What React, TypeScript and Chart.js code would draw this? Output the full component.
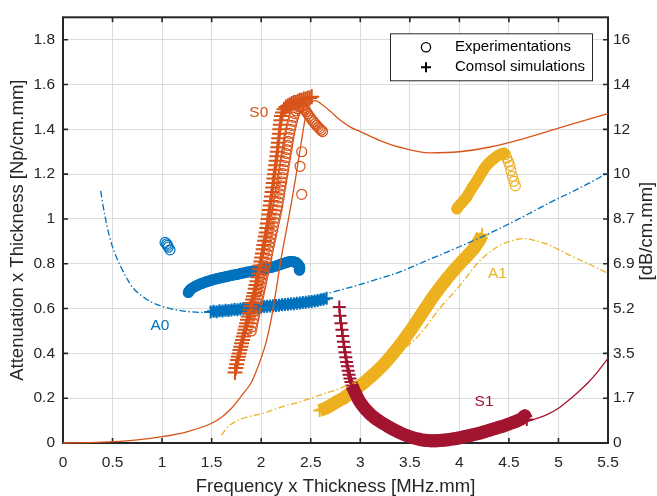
import React, { useEffect, useRef } from "react";
import { Chart, registerables } from "chart.js";

Chart.register(...registerables);

// ---------- axes ----------
const xTicks = [0, 0.5, 1, 1.5, 2, 2.5, 3, 3.5, 4, 4.5, 5, 5.5];
const xTickLabels = ["0", "0.5", "1", "1.5", "2", "2.5", "3", "3.5", "4", "4.5", "5", "5.5"];
const yTicks = [0, 0.2, 0.4, 0.6, 0.8, 1, 1.2, 1.4, 1.6, 1.8];
const yTickLabels = ["0", "0.2", "0.4", "0.6", "0.8", "1", "1.2", "1.4", "1.6", "1.8"];
const yRightTickLabels = ["0", "1.7", "3.5", "5.2", "6.9", "8.7", "10", "12", "14", "16"];
const xRange = [0, 5.5];
const yRange = [0, 1.9];
const xTitle = "Frequency x Thickness [MHz.mm]";
const yTitle = "Attenuation x Thickness [Np/cm.mm]";
const y2Title = "[dB/cm.mm]";
const legendLabels = ["Experimentations", "Comsol simulations"];

type P = [number, number];

// ---------- theory curves ----------
const a0Theory: P[] = [
  [0.38, 1.125], [0.42, 1.02], [0.47, 0.92], [0.52, 0.85], [0.58, 0.79], [0.65, 0.73], [0.71, 0.69],
  [0.8, 0.655], [0.9, 0.627], [1.0, 0.61], [1.1, 0.598], [1.2, 0.59], [1.3, 0.585], [1.4, 0.583],
  [1.5, 0.584], [1.7, 0.592], [2.0, 0.61], [2.3, 0.633], [2.6, 0.66], [2.9, 0.695], [3.2, 0.735],
  [3.4, 0.764], [3.7, 0.82], [4.0, 0.876], [4.3, 0.935], [4.6, 1.0], [4.9, 1.07], [5.2, 1.135], [5.5, 1.205],
];
const s0Theory: P[] = [
  [0, 0], [0.25, 0.002], [0.5, 0.006], [0.75, 0.014], [1.0, 0.028], [1.25, 0.05], [1.5, 0.088],
  [1.6, 0.115], [1.7, 0.155], [1.8, 0.21], [1.9, 0.27], [1.95, 0.32], [2.0, 0.38], [2.05, 0.45],
  [2.1, 0.55], [2.15, 0.68], [2.2, 0.82], [2.25, 0.94], [2.3, 1.06], [2.35, 1.19], [2.4, 1.33],
  [2.45, 1.46], [2.5, 1.52], [2.55, 1.528], [2.6, 1.515], [2.7, 1.48], [2.8, 1.44], [2.9, 1.41],
  [3.0, 1.39], [3.2, 1.35], [3.4, 1.32], [3.7, 1.295], [4.0, 1.3], [4.3, 1.32], [4.7, 1.365],
  [5.0, 1.405], [5.5, 1.47],
];
const a1Theory: P[] = [
  [1.6, 0.035], [1.65, 0.065], [1.7, 0.085], [1.8, 0.108], [1.9, 0.12], [2.0, 0.13], [2.2, 0.16],
  [2.4, 0.185], [2.6, 0.215], [2.8, 0.245], [3.0, 0.285], [3.2, 0.34], [3.4, 0.405], [3.6, 0.485],
  [3.8, 0.6], [4.0, 0.7], [4.2, 0.81], [4.4, 0.88], [4.55, 0.905], [4.65, 0.912], [4.75, 0.905],
  [4.9, 0.885], [5.05, 0.852], [5.2, 0.82], [5.35, 0.79], [5.5, 0.757],
];
const s1Theory: P[] = [
  [2.92, 0.26], [2.97, 0.215], [3.0, 0.185], [3.05, 0.145], [3.1, 0.115], [3.2, 0.075], [3.3, 0.05],
  [3.4, 0.033], [3.5, 0.019], [3.6, 0.009], [3.7, 0.004], [3.8, 0.003], [3.9, 0.006], [4.0, 0.012],
  [4.2, 0.032], [4.4, 0.058], [4.6, 0.085], [4.8, 0.112], [4.9, 0.13], [5.0, 0.155], [5.1, 0.19],
  [5.2, 0.228], [5.3, 0.27], [5.4, 0.32], [5.5, 0.378],
];

// ---------- experiments (circles) ----------
const a0Exp: P[] = [
  [1.265, 0.672], [1.28, 0.682], [1.3, 0.69], [1.33, 0.698], [1.36, 0.705], [1.4, 0.712], [1.45, 0.72],
  [1.5, 0.727], [1.55, 0.733], [1.6, 0.738], [1.65, 0.743], [1.7, 0.748], [1.75, 0.752], [1.8, 0.757],
  [1.85, 0.762], [1.9, 0.766], [1.95, 0.77], [2.0, 0.775], [2.05, 0.779], [2.1, 0.784], [2.15, 0.79],
  [2.2, 0.798], [2.25, 0.805], [2.29, 0.81], [2.32, 0.81], [2.35, 0.806], [2.37, 0.798], [2.385, 0.788],
  [2.39, 0.78], [2.385, 0.772],
];
const a0ExpIsolated: P[] = [[1.03, 0.895], [1.046, 0.889], [1.055, 0.882], [1.063, 0.874], [1.08, 0.862]];
const s0Exp: P[] = [
  [1.9, 0.5], [1.909, 0.518], [1.917, 0.536], [1.926, 0.554], [1.935, 0.572], [1.943, 0.59], [1.952, 0.608],
  [1.96, 0.626], [1.969, 0.644], [1.978, 0.662], [1.986, 0.68], [1.995, 0.698], [2.004, 0.716], [2.012, 0.734],
  [2.021, 0.752], [2.03, 0.77], [2.038, 0.788], [2.047, 0.806], [2.056, 0.824], [2.064, 0.842], [2.073, 0.86],
  [2.081, 0.878], [2.09, 0.896], [2.099, 0.914], [2.107, 0.932], [2.116, 0.95], [2.125, 0.968], [2.133, 0.986],
  [2.142, 1.004], [2.151, 1.022], [2.16, 1.04], [2.167, 1.058], [2.173, 1.076], [2.18, 1.094], [2.187, 1.112],
  [2.193, 1.13], [2.2, 1.148], [2.207, 1.166], [2.213, 1.184], [2.22, 1.202], [2.227, 1.22], [2.233, 1.238],
  [2.24, 1.256], [2.247, 1.274], [2.253, 1.292], [2.26, 1.31], [2.267, 1.328], [2.273, 1.346], [2.28, 1.364],
  [2.288, 1.382], [2.297, 1.4], [2.306, 1.418], [2.316, 1.436], [2.327, 1.454], [2.338, 1.47],
  [2.35, 1.483], [2.365, 1.493], [2.38, 1.5], [2.395, 1.503], [2.41, 1.501], [2.425, 1.496], [2.44, 1.488],
  [2.455, 1.479], [2.47, 1.469], [2.485, 1.459], [2.5, 1.45], [2.515, 1.441], [2.53, 1.433], [2.545, 1.425],
  [2.56, 1.417], [2.575, 1.41], [2.59, 1.403], [2.605, 1.396], [2.62, 1.39],
  [2.409, 1.3], [2.392, 1.235], [2.409, 1.11],
];
const a1ExpBand: P[] = [
  [3.975, 1.045], [3.99, 1.055], [4.01, 1.065], [4.03, 1.075], [4.05, 1.085], [4.07, 1.096], [4.09, 1.11],
  [4.11, 1.125], [4.13, 1.14], [4.15, 1.153], [4.17, 1.166], [4.19, 1.18], [4.21, 1.195], [4.23, 1.21],
  [4.25, 1.224], [4.27, 1.236], [4.29, 1.246], [4.31, 1.255], [4.33, 1.263], [4.35, 1.27], [4.37, 1.277],
  [4.39, 1.283], [4.41, 1.288], [4.43, 1.292], [4.45, 1.294],
];
const a1ExpTail: P[] = [
  [4.465, 1.288], [4.478, 1.272], [4.495, 1.255], [4.51, 1.238], [4.52, 1.215], [4.535, 1.19], [4.55, 1.168], [4.565, 1.148],
];

// ---------- simulations (plus) ----------
const a0Sim: P[] = [
  [1.49, 0.585], [1.52, 0.588], [1.55, 0.586], [1.58, 0.59], [1.61, 0.589], [1.64, 0.592], [1.67, 0.591],
  [1.7, 0.594], [1.73, 0.596], [1.76, 0.595], [1.79, 0.598], [1.82, 0.6], [1.85, 0.599], [1.88, 0.602],
  [1.91, 0.603], [1.94, 0.605], [1.97, 0.604], [2.0, 0.607], [2.03, 0.609], [2.06, 0.61], [2.09, 0.611],
  [2.12, 0.613], [2.15, 0.614], [2.18, 0.615], [2.21, 0.617], [2.24, 0.618], [2.27, 0.619], [2.3, 0.621],
  [2.33, 0.622], [2.36, 0.624], [2.39, 0.625], [2.42, 0.627], [2.45, 0.628], [2.48, 0.63], [2.51, 0.632],
  [2.54, 0.634], [2.57, 0.636], [2.6, 0.639], [2.63, 0.642], [2.66, 0.646],
];
const s0Sim: P[] = [
  [1.736, 0.315], [1.745, 0.335], [1.753, 0.352], [1.762, 0.37], [1.77, 0.385], [1.778, 0.4], [1.786, 0.415],
  [1.795, 0.43], [1.803, 0.445], [1.812, 0.46], [1.82, 0.475], [1.83, 0.49], [1.838, 0.505], [1.846, 0.52],
  [1.854, 0.535], [1.862, 0.55], [1.87, 0.565], [1.878, 0.58], [1.887, 0.595], [1.895, 0.61], [1.905, 0.625],
  [1.913, 0.64], [1.922, 0.655], [1.93, 0.67], [1.94, 0.688], [1.948, 0.705], [1.957, 0.722], [1.966, 0.74],
  [1.975, 0.757], [1.983, 0.775], [1.99, 0.792], [1.998, 0.81], [2.005, 0.828], [2.012, 0.846], [2.02, 0.865],
  [2.027, 0.884], [2.035, 0.903], [2.042, 0.922], [2.05, 0.94], [2.057, 0.96], [2.063, 0.98], [2.07, 1.0],
  [2.077, 1.02], [2.083, 1.04], [2.09, 1.06], [2.097, 1.08], [2.103, 1.1], [2.11, 1.12], [2.116, 1.14],
  [2.122, 1.16], [2.128, 1.18], [2.134, 1.2], [2.14, 1.22], [2.146, 1.24], [2.152, 1.26], [2.158, 1.28],
  [2.163, 1.3], [2.168, 1.32], [2.173, 1.34], [2.178, 1.36], [2.183, 1.38], [2.188, 1.4], [2.193, 1.42],
  [2.198, 1.44], [2.205, 1.46], [2.215, 1.475], [2.23, 1.49], [2.25, 1.5], [2.27, 1.505], [2.29, 1.51],
  [2.31, 1.515], [2.33, 1.52], [2.35, 1.52], [2.37, 1.525], [2.39, 1.53], [2.41, 1.53], [2.43, 1.535],
  [2.45, 1.535], [2.47, 1.54], [2.49, 1.54], [2.51, 1.545],
];
const a1Sim: P[] = [
  [2.59, 0.145], [2.62, 0.15], [2.65, 0.155], [2.68, 0.162], [2.71, 0.17], [2.74, 0.178], [2.77, 0.186],
  [2.8, 0.193], [2.83, 0.2], [2.86, 0.21], [2.89, 0.22], [2.92, 0.23], [2.95, 0.24], [2.98, 0.25],
  [3.01, 0.26], [3.04, 0.27], [3.07, 0.282], [3.1, 0.293], [3.13, 0.305], [3.16, 0.317], [3.19, 0.33],
  [3.22, 0.343], [3.25, 0.357], [3.28, 0.372], [3.31, 0.388], [3.34, 0.404], [3.37, 0.42], [3.4, 0.437],
  [3.43, 0.455], [3.46, 0.473], [3.49, 0.492], [3.52, 0.51], [3.55, 0.53], [3.58, 0.55], [3.61, 0.57],
  [3.64, 0.59], [3.67, 0.61], [3.7, 0.63], [3.73, 0.65], [3.76, 0.668], [3.79, 0.686], [3.82, 0.703],
  [3.85, 0.72], [3.88, 0.737], [3.91, 0.753], [3.94, 0.768], [3.97, 0.783], [4.0, 0.798], [4.03, 0.812],
  [4.06, 0.826], [4.09, 0.84], [4.12, 0.855], [4.15, 0.87], [4.18, 0.89], [4.21, 0.91], [4.23, 0.93],
];
const s1SimTop: P[] = [
  [2.788, 0.607], [2.795, 0.568], [2.805, 0.535], [2.815, 0.505], [2.823, 0.478], [2.83, 0.452],
  [2.838, 0.428], [2.846, 0.405], [2.854, 0.383], [2.862, 0.362], [2.87, 0.342], [2.878, 0.323],
  [2.887, 0.305], [2.896, 0.288], [2.906, 0.272],
];
const s1SimBand: P[] = [
  [2.916, 0.257], [2.93, 0.242], [2.945, 0.228], [2.96, 0.214], [2.975, 0.2], [2.99, 0.188], [3.01, 0.175],
  [3.03, 0.163], [3.05, 0.152], [3.08, 0.138], [3.11, 0.125], [3.14, 0.114], [3.17, 0.104], [3.2, 0.095],
  [3.23, 0.087], [3.26, 0.079], [3.29, 0.071], [3.32, 0.064], [3.35, 0.057], [3.38, 0.05], [3.41, 0.044],
  [3.44, 0.038], [3.47, 0.033], [3.5, 0.028], [3.53, 0.024], [3.56, 0.02], [3.59, 0.017], [3.62, 0.014],
  [3.65, 0.012], [3.68, 0.011], [3.71, 0.01], [3.74, 0.01], [3.77, 0.01], [3.8, 0.011], [3.83, 0.012],
  [3.86, 0.013], [3.89, 0.015], [3.92, 0.017], [3.95, 0.019], [3.98, 0.021], [4.01, 0.024], [4.04, 0.027],
  [4.07, 0.03], [4.1, 0.033], [4.13, 0.036], [4.16, 0.039], [4.19, 0.042], [4.22, 0.046], [4.25, 0.05],
  [4.28, 0.054], [4.31, 0.058], [4.34, 0.062], [4.37, 0.066], [4.4, 0.07], [4.43, 0.074], [4.46, 0.078],
  [4.49, 0.083], [4.52, 0.088], [4.55, 0.093], [4.58, 0.098], [4.61, 0.104], [4.64, 0.112], [4.66, 0.122],
  [4.68, 0.105],
];

// ---------- curve name labels (data coordinates) ----------
const curveLabels = [
  { text: "S0", x: 1.976, y: 1.475, color: "#D95319" },
  { text: "A0", x: 0.979, y: 0.525, color: "#0072BD" },
  { text: "A1", x: 4.385, y: 0.757, color: "#EDB120" },
  { text: "S1", x: 4.249, y: 0.183, color: "#A2142F" },
];

const BLUE = "#0072BD";
const ORANGE = "#D95319";
const YELLOW = "#EDB120";
const RED = "#A2142F";
const TEXT = "#262626";
const FONT = '"Liberation Sans", Arial, Helvetica, sans-serif';
const DASHDOT = [6.5, 2.5, 1.5, 2.5];

const toXY = (pts: P[]) => pts.map(([x, y]) => ({ x, y }));

function lineDs(label: string, pts: P[], color: string, dash: number[] = []) {
  return {
    label,
    data: toXY(pts),
    showLine: true,
    borderColor: color,
    backgroundColor: color,
    borderWidth: 1.3,
    borderDash: dash,
    pointRadius: 0,
    fill: false,
    cubicInterpolationMode: "monotone",
    clip: false as any,
  };
}
function circleDs(label: string, pts: P[], color: string, band: number) {
  return {
    label,
    data: toXY(pts),
    showLine: band > 0,
    borderColor: color,
    borderWidth: band,
    borderCapStyle: "round",
    borderJoinStyle: "round",
    pointStyle: "circle",
    pointRadius: 5,
    pointBorderWidth: 1.2,
    pointBorderColor: color,
    pointBackgroundColor: "rgba(0,0,0,0)",
    fill: false,
    clip: false as any,
  };
}
function plusDs(label: string, pts: P[], color: string, band: number, r = 6.5) {
  return {
    label,
    data: toXY(pts),
    showLine: band > 0,
    borderColor: color,
    borderWidth: band,
    borderCapStyle: "butt",
    borderJoinStyle: "round",
    pointStyle: "cross",
    pointRadius: r,
    pointBorderWidth: 2,
    pointBorderColor: color,
    pointBackgroundColor: color,
    fill: false,
    clip: false as any,
  };
}

const findIdx = (arr: number[], v: number) => arr.findIndex((t) => Math.abs(t - v) < 1e-9);

const decorPlugin = {
  id: "decor",
  beforeDatasetsDraw(chart: any) {
    const { ctx, chartArea, scales } = chart;
    const { left, right, top, bottom } = chartArea;
    ctx.save();
    ctx.strokeStyle = TEXT;
    ctx.lineWidth = 1.6;
    ctx.beginPath();
    for (const v of xTicks) {
      const px = scales.x.getPixelForValue(v);
      ctx.moveTo(px, bottom);
      ctx.lineTo(px, bottom - 5);
      ctx.moveTo(px, top);
      ctx.lineTo(px, top + 5);
    }
    for (const v of yTicks) {
      const py = scales.y.getPixelForValue(v);
      ctx.moveTo(left, py);
      ctx.lineTo(left + 5, py);
      ctx.moveTo(right, py);
      ctx.lineTo(right - 5, py);
    }
    ctx.stroke();
    ctx.lineWidth = 2;
    ctx.strokeRect(left, top, right - left, bottom - top);
    ctx.restore();
  },
  afterDraw(chart: any) {
    const { ctx, chartArea, scales } = chart;
    const { left, right, top, bottom } = chartArea;
    ctx.save();
    // curve labels
    ctx.font = `15.5px ${FONT}`;
    ctx.textAlign = "center";
    ctx.textBaseline = "middle";
    for (const l of curveLabels) {
      ctx.fillStyle = l.color;
      ctx.fillText(l.text, scales.x.getPixelForValue(l.x), scales.y.getPixelForValue(l.y));
    }
    // legend
    const lx = right - 16 - 202;
    const ly = top + 16;
    ctx.fillStyle = "#ffffff";
    ctx.fillRect(lx, ly, 202, 47);
    ctx.strokeStyle = TEXT;
    ctx.lineWidth = 1;
    ctx.strokeRect(lx + 0.5, ly + 0.5, 202, 47);
    ctx.strokeStyle = "#000";
    ctx.lineWidth = 1.3;
    ctx.beginPath();
    ctx.arc(lx + 36, ly + 14, 4.6, 0, Math.PI * 2);
    ctx.stroke();
    ctx.lineWidth = 2;
    ctx.beginPath();
    ctx.moveTo(lx + 31, ly + 34);
    ctx.lineTo(lx + 41, ly + 34);
    ctx.moveTo(lx + 36, ly + 29);
    ctx.lineTo(lx + 36, ly + 39);
    ctx.stroke();
    ctx.fillStyle = "#000";
    ctx.font = `15px ${FONT}`;
    ctx.textAlign = "left";
    ctx.fillText(legendLabels[0], lx + 65, ly + 14);
    ctx.fillText(legendLabels[1], lx + 65, ly + 34);
    // axis titles
    ctx.fillStyle = TEXT;
    ctx.font = `18.5px ${FONT}`;
    ctx.textAlign = "center";
    ctx.fillText(xTitle, (left + right) / 2, 486.5);
    ctx.save();
    ctx.translate(18, (top + bottom) / 2);
    ctx.rotate(-Math.PI / 2);
    ctx.fillText(yTitle, 0, 0);
    ctx.restore();
    ctx.save();
    ctx.translate(647, (top + bottom) / 2 + 1);
    ctx.rotate(-Math.PI / 2);
    ctx.fillText(y2Title, 0, 0);
    ctx.restore();
    ctx.restore();
  },
};

export default function App() {
  const ref = useRef<HTMLCanvasElement>(null);
  useEffect(() => {
    if (!ref.current) return;
    const layers: any[] = [
      circleDs("A0 exp", a0Exp, BLUE, 11),
      circleDs("A0 exp isolated", a0ExpIsolated, BLUE, 0),
      plusDs("A0 sim", a0Sim, BLUE, 10),
      plusDs("S0 sim", s0Sim, ORANGE, 0, 7.5),
      circleDs("S0 exp", s0Exp, ORANGE, 0),
      circleDs("A1 exp", a1ExpBand, YELLOW, 11),
      circleDs("A1 exp tail", a1ExpTail, YELLOW, 0),
      plusDs("A1 sim", a1Sim, YELLOW, 13),
      plusDs("S1 sim top", s1SimTop, RED, 0),
      plusDs("S1 sim", s1SimBand, RED, 13),
      lineDs("A0", a0Theory, BLUE, DASHDOT),
      lineDs("S0", s0Theory, ORANGE),
      lineDs("A1", a1Theory, YELLOW, DASHDOT),
      lineDs("S1", s1Theory, RED),
    ];
    const n = layers.length;
    layers.forEach((d, i) => (d.order = n - i));

    const tickFont = { family: FONT, size: 15.5 };
    const chart = new Chart(ref.current, {
      type: "scatter",
      data: { datasets: layers },
      plugins: [decorPlugin],
      options: {
        responsive: false,
        maintainAspectRatio: false,
        animation: false,
        devicePixelRatio: 1,
        events: [],
        layout: { padding: { top: 13, left: 0, right: 0, bottom: 0 } },
        plugins: { legend: { display: false }, tooltip: { enabled: false } },
        scales: {
          x: {
            type: "linear",
            position: "bottom",
            min: xRange[0],
            max: xRange[1],
            afterBuildTicks: (s: any) => {
              s.ticks = xTicks.map((v) => ({ value: v }));
            },
            afterFit: (s: any) => {
              s.height = 53;
            },
            ticks: {
              font: tickFont,
              color: TEXT,
              padding: 10,
              autoSkip: false,
              maxRotation: 0,
              callback: (v: any) => xTickLabels[findIdx(xTicks, Number(v))] ?? "",
            },
            grid: { color: "#dcdcdc", lineWidth: 1, drawTicks: false },
            border: { display: false },
          },
          y: {
            type: "linear",
            position: "left",
            min: yRange[0],
            max: yRange[1],
            afterBuildTicks: (s: any) => {
              s.ticks = yTicks.map((v) => ({ value: v }));
            },
            afterFit: (s: any) => {
              s.width = 63;
            },
            ticks: {
              font: tickFont,
              color: TEXT,
              padding: 8,
              autoSkip: false,
              callback: (v: any) => yTickLabels[findIdx(yTicks, Number(v))] ?? "",
            },
            grid: { color: "#dcdcdc", lineWidth: 1, drawTicks: false },
            border: { display: false },
          },
          y2: {
            type: "linear",
            position: "right",
            min: yRange[0],
            max: yRange[1],
            afterBuildTicks: (s: any) => {
              s.ticks = yTicks.map((v) => ({ value: v }));
            },
            afterFit: (s: any) => {
              s.width = 49;
            },
            ticks: {
              font: tickFont,
              color: TEXT,
              padding: 5,
              autoSkip: false,
              callback: (v: any) => yRightTickLabels[findIdx(yTicks, Number(v))] ?? "",
            },
            grid: { display: false, drawTicks: false },
            border: { display: false },
          },
        },
      } as any,
    });
    return () => chart.destroy();
  }, []);

  return (
    <div style={{ position: "fixed", left: 0, top: 0, width: 657, height: 496, background: "#fff" }}>
      <canvas ref={ref} width={657} height={496} style={{ display: "block", width: 657, height: 496 }} />
    </div>
  );
}
